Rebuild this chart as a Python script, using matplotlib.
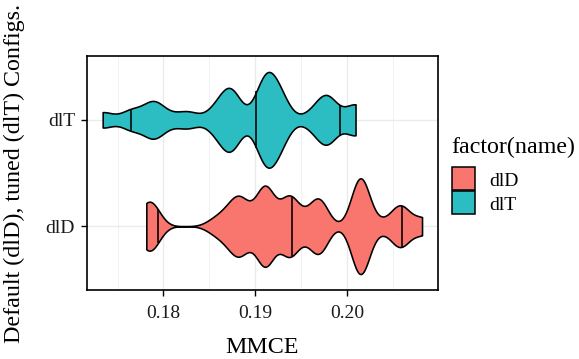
import numpy as np
import matplotlib
matplotlib.use("Agg")
import matplotlib.pyplot as plt
from matplotlib.patches import Rectangle

plt.rcParams["font.family"] = ["Liberation Serif", "DejaVu Serif"]

# Configuration groups (y categories, bottom to top) and their fills
names = ["dlD", "dlT"]
fill_colors = ["#F8766D", "#2BBDC1"]

# Observed MMCE values per group, with how often each value occurs
dlD_mmce = [0.17813, 0.17878, 0.18559, 0.18699, 0.18829, 0.18970, 0.19111,
            0.19370, 0.19532, 0.19694, 0.20148, 0.20386, 0.20581, 0.20819]
dlD_count = [6, 7, 3, 5, 12, 2, 19, 14, 3, 13, 24, 2, 10, 4]

dlT_mmce = [0.17337, 0.17651, 0.17889, 0.18072, 0.18267, 0.18570, 0.18732,
            0.19111, 0.19262, 0.19619, 0.19781, 0.20094]
dlT_count = [4, 5, 9, 2, 4, 5, 15, 20, 11, 3, 12, 8]

# Kernel bandwidth used for each group's density
bandwidth = {"dlD": 0.0010, "dlT": 0.00112}

quantiles = [0.05, 0.5, 0.95]
x_ticks = [0.18, 0.19, 0.20]
x_tick_labels = ["0.18", "0.19", "0.20"]
x_minor = [0.175, 0.185, 0.195, 0.205]

groups = {"dlD": (dlD_mmce, dlD_count), "dlT": (dlT_mmce, dlT_count)}


def violin_profile(values, counts, bw, n=512):
    samples = np.repeat(np.asarray(values, float), counts)
    grid = np.linspace(samples.min(), samples.max(), n)
    z = (grid[:, None] - samples[None, :]) / bw
    dens = np.exp(-0.5 * z ** 2).sum(axis=1) / (len(samples) * bw * np.sqrt(2 * np.pi))
    return grid, dens


W, H = 579, 359
fig = plt.figure(figsize=(W / 100, H / 100), dpi=100)
fig.patch.set_facecolor("white")
pl, pr, pt, pb = 86.7, 438.0, 56.0, 290.0
ax = fig.add_axes([pl / W, 1 - pb / H, (pr - pl) / W, (pb - pt) / H])

all_vals = []
for i, name in enumerate(names):
    vals, cnts = groups[name]
    all_vals += list(vals)
    grid, dens = violin_profile(vals, cnts, bandwidth[name])
    half = 0.45 * dens / dens.max()
    y0 = i + 1
    ax.fill_between(grid, y0 - half, y0 + half, facecolor=fill_colors[i],
                    edgecolor="black", linewidth=1.15, zorder=3)
    cdf = np.cumsum(dens) / dens.sum()
    for q in quantiles:
        xq = np.interp(q, cdf, grid)
        hq = np.interp(xq, grid, half)
        ax.plot([xq, xq], [y0 - hq, y0 + hq], color="black", lw=1.15,
                solid_capstyle="butt", zorder=4)

lo, hi = min(all_vals), max(all_vals)
pad = 0.05 * (hi - lo)
ax.set_xlim(lo - pad, hi + pad)
ax.set_ylim(0.4, len(names) + 0.6)

ax.set_xticks(x_ticks)
ax.set_xticklabels(x_tick_labels)
ax.set_xticks(x_minor, minor=True)
ax.set_yticks(range(1, len(names) + 1))
ax.set_yticklabels(names)

ax.set_axisbelow(True)
ax.grid(which="major", color="#EBEBEB", linewidth=1.0)
ax.grid(which="minor", axis="x", color="#EBEBEB", linewidth=0.5)
ax.tick_params(which="major", length=4, width=1.0, color="black",
               labelsize=14, labelcolor="#1a1a1a")
ax.tick_params(axis="x", which="major", pad=7.0)
ax.tick_params(axis="y", which="major", pad=4.5)
ax.tick_params(which="minor", length=0)
for s in ax.spines.values():
    s.set_linewidth(1.2)
    s.set_color("black")

fig.text(262.3 / W, 1 - 353 / H, "MMCE", ha="center", va="baseline", fontsize=17.3)
fig.text(14.5 / W, 1 - 173 / H, "Default (dlD), tuned (dlT) Configs.",
         rotation=90, ha="center", va="center", fontsize=17.3)

# Legend for the fill colours, laid out in figure pixels
lx, key = 451.7, 23.0
fig.text(lx / W, 1 - 153 / H, "factor(name)", ha="left", va="baseline", fontsize=17.3)
key_tops = [166.7, 190.7]
label_baselines = [186.5, 210.0]
for c, name, top, base in zip(fill_colors, names, key_tops, label_baselines):
    fig.add_artist(Rectangle((lx / W, 1 - (top + key) / H), key / W, key / H,
                             transform=fig.transFigure, facecolor=c,
                             edgecolor="black", linewidth=1.1))
    fig.text(489.3 / W, 1 - base / H, name, ha="left", va="baseline", fontsize=14)

fig.savefig("out.png", dpi=100)
